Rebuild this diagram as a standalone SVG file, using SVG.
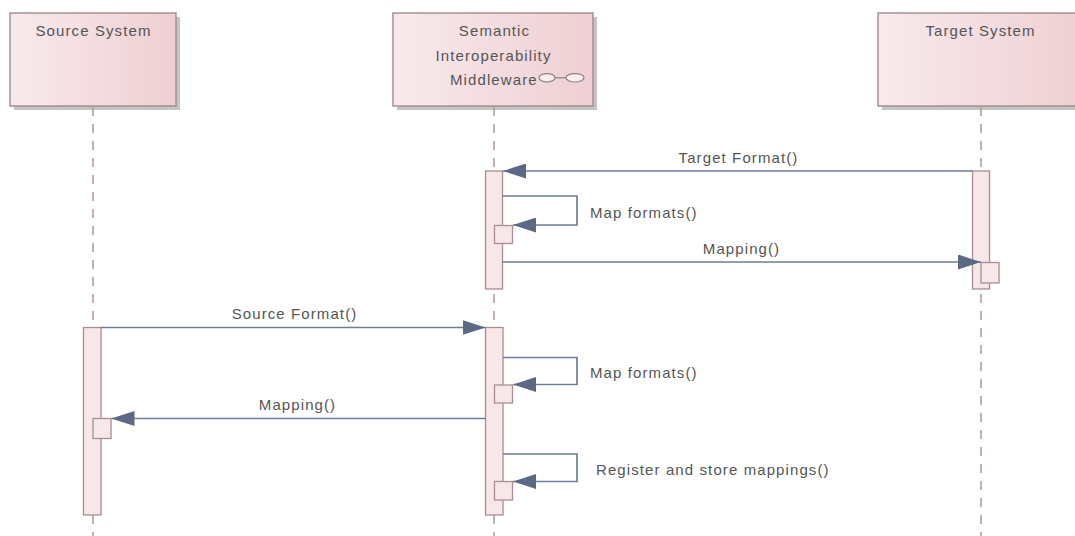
<svg xmlns="http://www.w3.org/2000/svg" width="1075" height="536" viewBox="0 0 1075 536">
  <style>
    .head { stroke: #a08a8c; stroke-width: 1.4; }
    .shadow { fill: #c4c4c4; }
    .life { stroke: #b39c9e; stroke-width: 1.6; stroke-dasharray: 9 8; fill: none; }
    .act { fill: #f7e7e8; stroke: #a88e90; stroke-width: 1.3; }
    .msg { stroke: #6e7c98; stroke-width: 1.7; fill: none; }
    .lbl { font-family: "Liberation Sans", Arial, sans-serif; font-size: 15px; letter-spacing: 1.1px; fill: #555555; }
    .mid { text-anchor: middle; }
  </style>
  <defs>
    <linearGradient id="headFill" x1="0" y1="0" x2="1" y2="0">
      <stop offset="0" stop-color="#f8eaec"/>
      <stop offset="1" stop-color="#efcfd3"/>
    </linearGradient>
    <marker id="arrow" viewBox="0 0 23 15" refX="23" refY="7.5" markerWidth="23" markerHeight="15" markerUnits="userSpaceOnUse" orient="auto">
      <path d="M0,0 L23,7.5 L0,15 Z" fill="#5c6985"/>
    </marker>
  </defs>
  <rect width="1075" height="536" fill="#ffffff"/>

  <!-- Source System participant -->
  <g id="source-system">
    <rect class="shadow" x="14" y="17" width="166" height="93"/>
    <rect class="head" x="10" y="13" width="166" height="93" fill="url(#headFill)"/>
    <text class="lbl mid" x="93.5" y="36">Source System</text>
    <line class="life" x1="93" y1="107" x2="93" y2="536"/>
    <rect class="act" x="83.5" y="327.5" width="17.5" height="187.5"/>
    <rect class="act" x="93" y="418.5" width="18" height="20"/>
  </g>

  <!-- Semantic Interoperability Middleware participant -->
  <g id="middleware">
    <rect class="shadow" x="397" y="17" width="200" height="93"/>
    <rect class="head" x="393" y="13" width="200" height="93" fill="url(#headFill)"/>
    <text class="lbl mid" x="494.5" y="36">Semantic</text>
    <text class="lbl mid" x="493.5" y="61">Interoperability</text>
    <text class="lbl" x="450" y="85">Middleware</text>
    <g fill="#f9eef0" stroke="#8e7f82" stroke-width="1.2">
      <line x1="555" y1="77.8" x2="566" y2="77.8"/>
      <ellipse cx="547" cy="77.8" rx="8" ry="4.2"/>
      <ellipse cx="575" cy="77.8" rx="9" ry="4.2"/>
    </g>
    <line class="life" x1="494" y1="107" x2="494" y2="536"/>
    <rect class="act" x="485.5" y="171" width="17" height="118"/>
    <rect class="act" x="494.5" y="225.5" width="18" height="18"/>
    <rect class="act" x="485.5" y="327.5" width="17.5" height="187.5"/>
    <rect class="act" x="494.5" y="385" width="18" height="18"/>
    <rect class="act" x="494.5" y="481.5" width="18" height="18.5"/>
  </g>

  <!-- Target System participant -->
  <g id="target-system">
    <rect class="shadow" x="882" y="17" width="206" height="93"/>
    <rect class="head" x="878" y="13" width="206" height="93" fill="url(#headFill)"/>
    <text class="lbl mid" x="980.5" y="36">Target System</text>
    <line class="life" x1="981" y1="107" x2="981" y2="536"/>
    <rect class="act" x="972.5" y="171" width="17" height="118"/>
    <rect class="act" x="981" y="262.5" width="18" height="20.5"/>
  </g>

  <!-- Messages -->
  <g id="connectors">
    <line class="msg" x1="972.5" y1="171" x2="503" y2="171" marker-end="url(#arrow)"/>
    <text class="lbl mid" x="738.5" y="163">Target Format()</text>

    <polyline class="msg" points="502.5,196 577,196 577,225 513,225" marker-end="url(#arrow)"/>
    <text class="lbl" x="590" y="218">Map formats()</text>

    <line class="msg" x1="502.5" y1="262" x2="981" y2="262" marker-end="url(#arrow)"/>
    <text class="lbl mid" x="741.5" y="254">Mapping()</text>

    <line class="msg" x1="101" y1="327.5" x2="485.5" y2="327.5" marker-end="url(#arrow)"/>
    <text class="lbl mid" x="294.5" y="319">Source Format()</text>

    <polyline class="msg" points="503,357.5 577,357.5 577,384.5 513,384.5" marker-end="url(#arrow)"/>
    <text class="lbl" x="590" y="378">Map formats()</text>

    <line class="msg" x1="485.5" y1="418.5" x2="111.5" y2="418.5" marker-end="url(#arrow)"/>
    <text class="lbl mid" x="297.5" y="410">Mapping()</text>

    <polyline class="msg" points="503,454 577,454 577,481.5 513,481.5" marker-end="url(#arrow)"/>
    <text class="lbl" x="596" y="475">Register and store mappings()</text>
  </g>
</svg>
